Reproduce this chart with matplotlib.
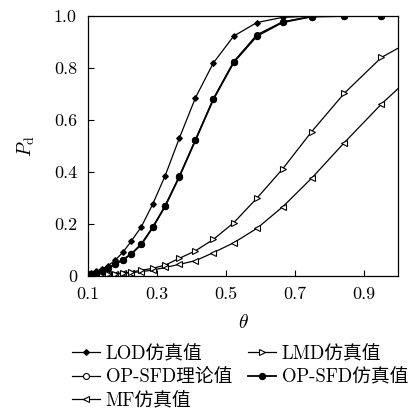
import matplotlib
matplotlib.use('Agg')
import matplotlib.pyplot as plt

plt.rcParams['font.family'] = ['cmr10', 'Noto Sans CJK SC']
plt.rcParams['mathtext.fontset'] = 'cm'
plt.rcParams['axes.formatter.use_mathtext'] = True

# theta grid (geometric steps); last point lies past the right edge
theta = [0.100, 0.110, 0.124, 0.140, 0.158, 0.178, 0.201, 0.226, 0.255, 0.288,
         0.324, 0.365, 0.412, 0.464, 0.523, 0.590, 0.665, 0.749, 0.844, 0.952, 1.073]

lod = [0.008, 0.012, 0.018, 0.027, 0.040, 0.060, 0.091, 0.135, 0.190, 0.277,
       0.386, 0.530, 0.686, 0.820, 0.923, 0.975, 0.995, 1.000, 1.000, 1.000, 1.000]
opsfd_theory = [0.005, 0.008, 0.012, 0.020, 0.031, 0.046, 0.063, 0.086, 0.124, 0.188,
                0.270, 0.383, 0.524, 0.682, 0.825, 0.928, 0.978, 0.998, 1.000, 1.000, 1.000]
opsfd_sim = [0.005, 0.008, 0.012, 0.020, 0.030, 0.045, 0.062, 0.085, 0.122, 0.187,
             0.269, 0.382, 0.523, 0.680, 0.822, 0.923, 0.976, 0.998, 1.000, 1.000, 1.000]
lmd = [0.003, 0.004, 0.005, 0.006, 0.007, 0.009, 0.012, 0.016, 0.022, 0.030,
       0.042, 0.068, 0.097, 0.141, 0.205, 0.299, 0.412, 0.555, 0.703, 0.841, 0.930]
mf = [0.002, 0.003, 0.004, 0.005, 0.006, 0.008, 0.010, 0.013, 0.017, 0.023,
      0.033, 0.045, 0.059, 0.090, 0.128, 0.183, 0.266, 0.376, 0.513, 0.662, 0.810]

labels = ['LOD仿真值', 'OP-SFD理论值', 'MF仿真值', 'LMD仿真值', 'OP-SFD仿真值']

fig = plt.figure(figsize=(4.14, 4.12), dpi=100)
ax = fig.add_axes([0.2126, 0.330, 0.7488, 0.631])

h_lod, = ax.plot(theta, lod, '-', color='black', lw=0.9, marker='D', ms=2.8,
                 mfc='black', mec='black', label=labels[0])
h_th, = ax.plot(theta, opsfd_theory, '-', color='black', lw=0.9, marker='o', ms=4.3,
                mfc='white', mec='black', mew=0.8, label=labels[1])
h_mf, = ax.plot(theta, mf, '-', color='black', lw=0.9, marker='<', ms=5,
                mfc='white', mec='black', mew=0.8, label=labels[2])
h_lmd, = ax.plot(theta, lmd, '-', color='black', lw=0.9, marker='>', ms=5,
                 mfc='white', mec='black', mew=0.8, label=labels[3])
h_sim, = ax.plot(theta, opsfd_sim, '-', color='black', lw=1.3, marker='o', ms=4.3,
                 mfc='black', mec='black', label=labels[4])

ax.set_xlim(0.1, 1.0)
ax.set_ylim(0, 1.0)
ax.set_xticks([0.1, 0.3, 0.5, 0.7, 0.9])
ax.set_xticklabels(['0.1', '0.3', '0.5', '0.7', '0.9'])
ax.set_yticks([0, 0.2, 0.4, 0.6, 0.8, 1.0])
ax.set_yticklabels(['0', '0.2', '0.4', '0.6', '0.8', '1.0'])
ax.tick_params(direction='in', length=4, labelsize=13, top=False, right=False, pad=8)
for s in ax.spines.values():
    s.set_linewidth(0.9)

ax.set_xlabel(r'$\theta$', fontsize=14, labelpad=8)
ax.set_ylabel(r'$P_{\rm d}$', fontsize=14, labelpad=12)

fig.legend(handles=[h_lod, h_th, h_mf, h_lmd, h_sim], ncol=2, frameon=False,
           loc='upper left', bbox_to_anchor=(72 / 414, 1 - 345 / 412), fontsize=13.5,
           handlelength=1.5, handletextpad=0.3, columnspacing=0.85,
           labelspacing=0.3, borderaxespad=0, borderpad=0)

fig.savefig('out.png', dpi=100)
